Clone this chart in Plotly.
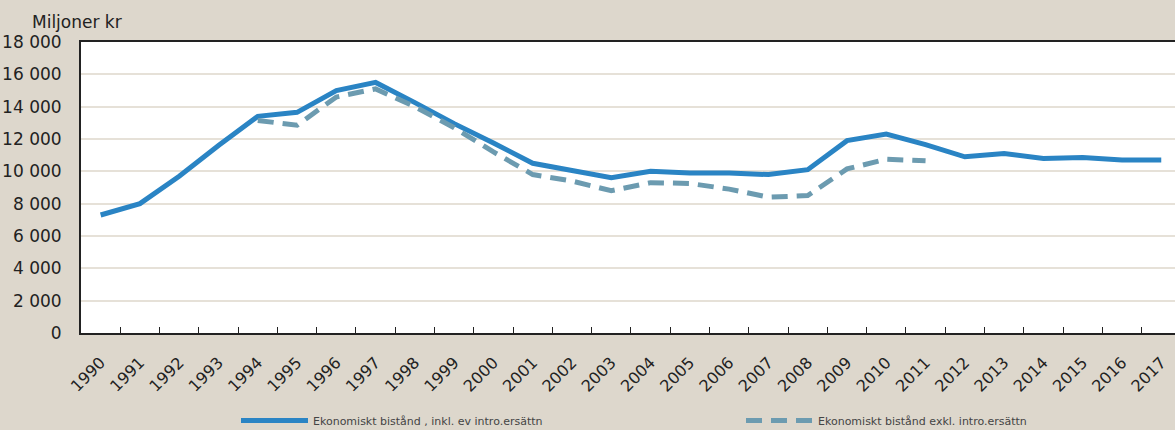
import plotly.graph_objects as go

years = [str(y) for y in range(1990, 2018)]

# Ekonomiskt bistånd inkl. ev intro.ersättn (miljoner kr)
inkl = [7300, 8000, 9700, 11600, 13400, 13650, 15000, 15500, 14250, 12950,
        11750, 10500, 10050, 9600, 10000, 9900, 9900, 9800, 10100, 11900,
        12300, 11650, 10900, 11100, 10800, 10850, 10700, 10700]

# Ekonomiskt bistånd exkl. intro.ersättn (only 1994-2011)
exkl = [None, None, None, None, 13150, 12850, 14600, 15100, 14000, 12700,
        11200, 9800, 9400, 8800, 9300, 9250, 8900, 8400, 8500, 10150,
        10750, 10650, None, None, None, None, None, None]

y_ticks = list(range(0, 18001, 2000))
y_labels = [f"{v:,}".replace(",", " ") for v in y_ticks]

bg = "#ddd7cc"
font = "DejaVu Sans"

fig = go.Figure()
fig.add_trace(go.Scatter(x=years, y=inkl, mode="lines",
                         name="Ekonomiskt bistånd , inkl. ev intro.ersättn",
                         line=dict(color="#2a84c4", width=5)))
fig.add_trace(go.Scatter(x=years, y=exkl, mode="lines",
                         name="Ekonomiskt bistånd exkl. intro.ersättn",
                         line=dict(color="#6c9bb0", width=5, dash="16px,9px")))

fig.update_layout(
    width=1175, height=430,
    margin=dict(l=81, r=0, t=42, b=97, autoexpand=False),
    paper_bgcolor=bg, plot_bgcolor="white",
    font=dict(family=font, color="#222222"),
    showlegend=True,
    legend=dict(orientation="h", x=(236 - 81) / 1094, xref="paper", xanchor="left",
                yref="container", y=0.022, yanchor="middle",
                font=dict(size=11, color="#444444"),
                entrywidth=423, itemwidth=67, tracegroupgap=0,
                bgcolor="rgba(0,0,0,0)", traceorder="normal"),
    annotations=[dict(text="Miljoner kr", xref="paper", yref="paper",
                      x=-0.047, y=1.0, xanchor="left", yanchor="bottom", yshift=8,
                      showarrow=False, font=dict(size=17, family=font, color="#222222"))],
)

fig.update_xaxes(type="category", range=[-0.5, 27.35], automargin=False,
                 showline=True, linecolor="#222222", linewidth=2, mirror=True,
                 ticks="inside", tickson="boundaries", ticklen=6, tickcolor="#222222",
                 tickangle=-45, tickfont=dict(size=16), ticklabelstandoff=12,
                 showgrid=False)
fig.update_yaxes(range=[0, 18000], tickvals=y_ticks, ticktext=y_labels, automargin=False,
                 showline=True, linecolor="#222222", linewidth=2,
                 gridcolor="#e6e1d8", gridwidth=2, zeroline=False,
                 tickfont=dict(size=17), ticklabelstandoff=14)

fig.write_html("out.html", config={"displayModeBar": False},
               post_script="document.body.style.margin='0';")
